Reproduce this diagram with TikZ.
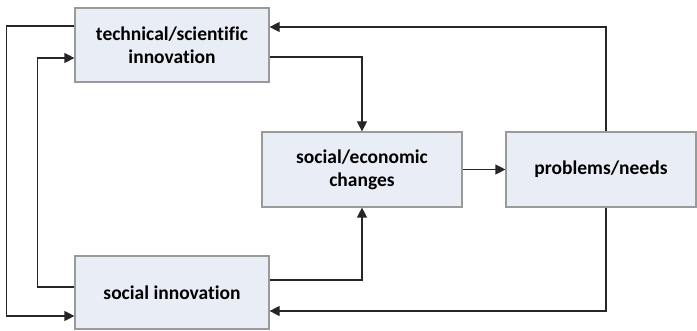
\documentclass[tikz,border=0pt]{standalone}
\usepackage{fontspec}
\setmainfont[Ligatures=CommonOff]{Carlito}
\usetikzlibrary{arrows.meta}

\definecolor{boxfill}{HTML}{E9EDF5}
\definecolor{boxline}{HTML}{9A9A9A}

\begin{document}
\begin{tikzpicture}[x=1pt,y=-1pt,
					>={Triangle[length=10pt,width=10pt]},
					thick,
					flow/.style={->,line width=1.2pt,draw=black!85},
					main node/.style={rectangle,draw=boxline,line width=1.2pt,fill=boxfill,
						align=center,inner sep=0pt,
						font=\bfseries\fontsize{19.5}{23}\selectfont}]

  \useasboundingbox (0,0) rectangle (697,331);

  \node[main node,minimum width=194pt,minimum height=74pt] (tech)   at (172,45)    {technical/scientific\\innovation};
  \node[main node,minimum width=200pt,minimum height=75pt] (econ)   at (362,169.5) {social/economic\\changes};
  \node[main node,minimum width=190pt,minimum height=75pt] (prob)   at (601,169.5) {problems/needs};
  \node[main node,minimum width=194pt,minimum height=73pt] (social) at (172,292.5) {social innovation};

  % outer loops on the left
  \draw[flow] ([yshift=19pt]tech.west) -- ++(-68,0) |- ([yshift=-23.5pt]social.west);
  \draw[flow] ([yshift=5.5pt]social.west) -- ++(-37,0) |- ([yshift=-13pt]tech.west);

  % into the changes box
  \draw[flow] ([yshift=-12pt]tech.east) -| (econ.north);
  \draw[flow] ([yshift=12.5pt]social.east) -| (econ.south);
  \draw[flow] (econ) -- (prob);

  % feedback from problems/needs
  \draw[flow] ([xshift=5pt]prob.north) |- ([yshift=18pt]tech.east);
  \draw[flow] ([xshift=5pt]prob.south) |- ([yshift=-18.5pt]social.east);
\end{tikzpicture}
\end{document}
